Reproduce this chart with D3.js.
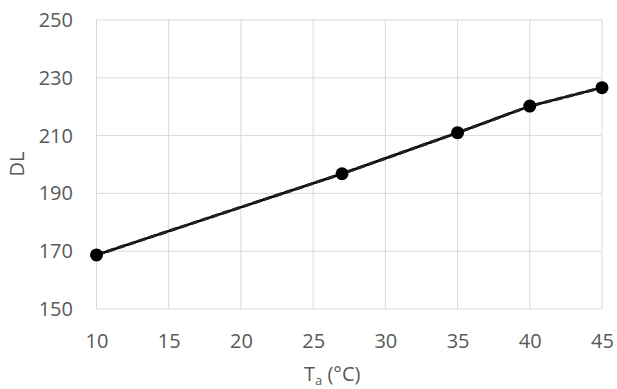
<!DOCTYPE html>
<html>
<head>
<meta charset="utf-8">
<script src="https://cdn.jsdelivr.net/npm/d3@7"></script>
<style>
  body { margin: 0; background: #fff; }
  text { font-family: "Open Sans", sans-serif; fill: #595959; }
</style>
</head>
<body>
<script>
// data
var temps = [10, 27, 35, 40, 45];
var dlValues = [168.7, 196.8, 211.0, 220.2, 226.6];
var xTicks = [10, 15, 20, 25, 30, 35, 40, 45];
var yTicks = [150, 170, 190, 210, 230, 250];

var W = 617, H = 389;
var svg = d3.select('body').append('svg')
    .attr('width', W)
    .attr('height', H);

var x = d3.scaleLinear().domain([10, 45]).range([96.5, 602]);
var y = d3.scaleLinear().domain([150, 250]).range([309, 20]);

var grid = svg.append('g');
grid.selectAll('line.v').data(xTicks).enter().append('line')
    .attr('x1', function (d) { return x(d); })
    .attr('x2', function (d) { return x(d); })
    .attr('y1', y(250)).attr('y2', y(150))
    .attr('stroke', '#d9d9d9').attr('stroke-width', 1);
grid.selectAll('line.h').data(yTicks).enter().append('line')
    .attr('x1', x(10)).attr('x2', x(45))
    .attr('y1', function (d) { return y(d); })
    .attr('y2', function (d) { return y(d); })
    .attr('stroke', '#d9d9d9').attr('stroke-width', 1);

// tick labels
var xAxis = d3.axisBottom(x).tickValues(xTicks).tickSize(0).tickPadding(0);
var gx = svg.append('g').attr('transform', 'translate(0,334)').call(xAxis);
gx.select('.domain').remove();
gx.selectAll('text').style('font-size', '20px').attr('fill', '#595959').attr('dy', '0.71em')
    .style('font-family', '"Open Sans", sans-serif');

var yAxis = d3.axisLeft(y).tickValues(yTicks).tickSize(0).tickPadding(0);
var gy = svg.append('g').attr('transform', 'translate(73,0)').call(yAxis);
gy.select('.domain').remove();
gy.selectAll('text').style('font-size', '20px').attr('fill', '#595959')
    .style('font-family', '"Open Sans", sans-serif');

// axis titles
var xt = svg.append('text')
    .attr('x', 304).attr('y', 381)
    .attr('text-anchor', 'start')
    .style('font-size', '20px');
xt.append('tspan').text('T');
xt.append('tspan').attr('dy', 4).style('font-size', '13px').text('a');
xt.append('tspan').attr('dy', -4).text(' (°C)');

svg.append('text')
    .attr('transform', 'translate(24,164) rotate(-90)')
    .attr('text-anchor', 'middle')
    .style('font-size', '20px')
    .text('DL');

var pts = temps.map(function (t, i) { return [t, dlValues[i]]; });
var lineFn = d3.line()
    .x(function (d) { return x(d[0]); })
    .y(function (d) { return y(d[1]); });

svg.append('path').datum(pts)
    .attr('d', lineFn)
    .attr('fill', 'none')
    .attr('stroke', '#000')
    .attr('stroke-width', 2.5);
svg.append('path').datum(pts)
    .attr('d', lineFn)
    .attr('fill', 'none')
    .attr('stroke', '#222')
    .attr('stroke-width', 3)
    .attr('stroke-dasharray', '8,3');

svg.selectAll('circle').data(pts).enter().append('circle')
    .attr('cx', function (d) { return x(d[0]); })
    .attr('cy', function (d) { return y(d[1]); })
    .attr('r', 6.5)
    .attr('fill', '#000');
</script>
</body>
</html>
